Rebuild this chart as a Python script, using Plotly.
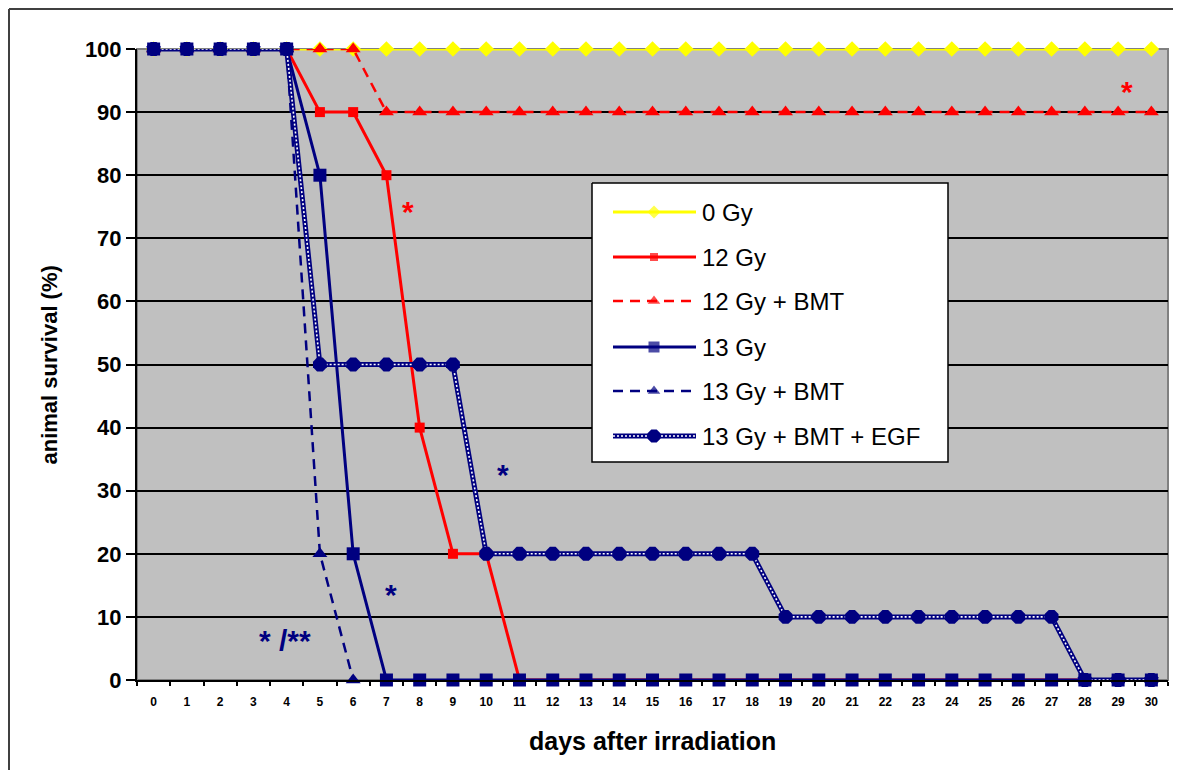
import plotly.graph_objects as go

# ---------------- data ----------------
days = ["0", "1", "2", "3", "4", "5", "6", "7", "8", "9", "10", "11", "12", "13", "14", "15",
        "16", "17", "18", "19", "20", "21", "22", "23", "24", "25", "26", "27", "28", "29", "30"]
gy0 = [100, 100, 100, 100, 100, 100, 100, 100, 100, 100, 100, 100, 100, 100, 100, 100,
       100, 100, 100, 100, 100, 100, 100, 100, 100, 100, 100, 100, 100, 100, 100]
gy12 = [100, 100, 100, 100, 100, 90, 90, 80, 40, 20, 20, 0, 0, 0, 0, 0,
        0, 0, 0, 0, 0, 0, 0, 0, 0, 0, 0, 0, 0, 0, 0]
gy12_bmt = [100, 100, 100, 100, 100, 100, 100, 90, 90, 90, 90, 90, 90, 90, 90, 90,
            90, 90, 90, 90, 90, 90, 90, 90, 90, 90, 90, 90, 90, 90, 90]
gy13 = [100, 100, 100, 100, 100, 80, 20, 0, 0, 0, 0, 0, 0, 0, 0, 0,
        0, 0, 0, 0, 0, 0, 0, 0, 0, 0, 0, 0, 0, 0, 0]
gy13_bmt_days = ["0", "1", "2", "3", "4", "5", "6"]
gy13_bmt = [100, 100, 100, 100, 100, 20, 0]
gy13_bmt_egf = [100, 100, 100, 100, 100, 50, 50, 50, 50, 50, 20, 20, 20, 20, 20, 20,
                20, 20, 20, 10, 10, 10, 10, 10, 10, 10, 10, 10, 0, 0, 0]

series_names = ["0 Gy", "12 Gy", "12 Gy + BMT", "13 Gy", "13 Gy + BMT", "13 Gy + BMT + EGF"]
y_ticks = [0, 10, 20, 30, 40, 50, 60, 70, 80, 90, 100]

# significance marks: (text, day position, survival position, colour)
star_text = ["*", "*", "*", "*", "* /**"]
star_x = [29.28, 7.64, 10.5, 7.13, 3.95]
star_y = [94.0, 75.0, 33.4, 14.3, 7.0]
star_col = ["#FF0000", "#FF0000", "#000080", "#000080", "#000080"]

# ---------------- styles ----------------
FONT = "Liberation Sans, Arial, sans-serif"
YEL = "#FFFF00"
RED = "#FF0000"
NAVY = "#000080"
DASH = "10px,7px"

styles = [
    dict(color=YEL, symbol="diamond", size=12, dash="solid", width=3),
    dict(color=RED, symbol="square", size=10, dash="solid", width=3),
    dict(color=RED, symbol="triangle-up", size=13, dash=DASH, width=2.5),
    dict(color=NAVY, symbol="square", size=13, dash="solid", width=3),
    dict(color=NAVY, symbol="triangle-up", size=13, dash=DASH, width=2.5),
    dict(color=NAVY, symbol="octagon", size=15, dash="solid", width=5),
]

fig = go.Figure()

xs = [days, days, days, days, gy13_bmt_days, days]
ys = [gy0, gy12, gy12_bmt, gy13, gy13_bmt, gy13_bmt_egf]

for i, (x, y, st) in enumerate(zip(xs, ys, styles)):
    if i < 5:
        fig.add_trace(go.Scatter(
            x=x, y=y, mode="lines+markers", name=series_names[i], showlegend=False,
            line=dict(color=st["color"], width=st["width"], dash=st["dash"]),
            marker=dict(symbol=st["symbol"], size=st["size"], color=st["color"]),
            cliponaxis=False))
    else:
        # chain-like line: thick navy line with white dotted core, then markers
        fig.add_trace(go.Scatter(
            x=x, y=y, mode="lines", name=series_names[i], showlegend=False,
            line=dict(color=NAVY, width=5), cliponaxis=False))
        fig.add_trace(go.Scatter(
            x=x, y=y, mode="lines", showlegend=False,
            line=dict(color="white", width=1.6, dash="2px,2px"), cliponaxis=False))
        fig.add_trace(go.Scatter(
            x=x, y=y, mode="markers", showlegend=False,
            marker=dict(symbol=st["symbol"], size=st["size"], color=NAVY),
            cliponaxis=False))

# ---------------- manual legend on a pixel overlay axis ----------------
leg_rows = [212, 257, 301, 347, 391, 436]
lx0, lxm, lx1 = 613, 654, 696
box = dict(x0=592, x1=948, y0=183, y1=462)

fig.add_trace(go.Scatter(
    x=[box["x0"], box["x1"], box["x1"], box["x0"], box["x0"]],
    y=[box["y0"], box["y0"], box["y1"], box["y1"], box["y0"]],
    xaxis="x2", yaxis="y2", mode="lines", fill="toself", fillcolor="white",
    line=dict(color="black", width=1.5), showlegend=False, hoverinfo="skip"))

for i, st in enumerate(styles):
    yy = leg_rows[i]
    if i < 5:
        fig.add_trace(go.Scatter(
            x=[lx0, lxm, lx1], y=[yy, yy, yy], xaxis="x2", yaxis="y2",
            mode="lines+markers", showlegend=False, hoverinfo="skip",
            line=dict(color=st["color"], width=st["width"], dash=st["dash"]),
            marker=dict(symbol=st["symbol"], size=[0, st["size"] - 2, 0], color=st["color"],
                        line=dict(width=0))))
    else:
        fig.add_trace(go.Scatter(
            x=[lx0, lx1], y=[yy, yy], xaxis="x2", yaxis="y2", mode="lines",
            showlegend=False, hoverinfo="skip", line=dict(color=NAVY, width=5)))
        fig.add_trace(go.Scatter(
            x=[lx0, lx1], y=[yy, yy], xaxis="x2", yaxis="y2", mode="lines",
            showlegend=False, hoverinfo="skip",
            line=dict(color="white", width=1.6, dash="2px,2px")))
        fig.add_trace(go.Scatter(
            x=[lxm], y=[yy], xaxis="x2", yaxis="y2", mode="markers",
            showlegend=False, hoverinfo="skip",
            marker=dict(symbol=st["symbol"], size=st["size"] - 1, color=NAVY)))
    fig.add_annotation(x=700, y=yy, xref="x2", yref="y2", text=series_names[i],
                       showarrow=False, xanchor="left", yanchor="middle",
                       font=dict(family=FONT, size=24, color="black"))

# significance asterisks
for t, sx, sy, c in zip(star_text, star_x, star_y, star_col):
    fig.add_annotation(x=sx, y=sy, xref="x", yref="y", text=t, showarrow=False,
                       xanchor="center", yanchor="middle", yshift=-5,
                       font=dict(family=FONT, size=30, color=c, weight="bold"))

# axis titles
fig.add_annotation(x=0.5, y=-0.0967, xref="paper", yref="paper",
                   text="days after irradiation", showarrow=False,
                   xanchor="center", yanchor="middle",
                   font=dict(family=FONT, size=25, color="black", weight="bold"))
fig.add_annotation(x=-0.0844, y=0.5, xref="paper", yref="paper",
                   text="animal survival (%)", showarrow=False, textangle=-90,
                   xanchor="center", yanchor="middle",
                   font=dict(family=FONT, size=22, color="black", weight="bold"))

# plot-area border and the outer chart frame (only its left and top edges are in view)
fig.add_shape(type="rect", xref="paper", yref="paper", x0=0, x1=1, y0=0, y1=1,
              line=dict(color="#808080", width=2), layer="below")
frame_x = (9 - 137) / 1031
frame_y = (680 - 9) / 631
fig.add_shape(type="line", xref="paper", yref="paper",
              x0=frame_x, x1=frame_x, y0=-0.3, y1=frame_y,
              line=dict(color="#404040", width=2), layer="below")
fig.add_shape(type="line", xref="paper", yref="paper",
              x0=frame_x, x1=1.2, y0=frame_y, y1=frame_y,
              line=dict(color="#404040", width=2), layer="below")

# the page body adds an 8 px offset, so the figure is shifted and kept inside the window
fig.update_layout(
    width=1165, height=762,
    margin=dict(l=129, r=5, t=41, b=90),
    paper_bgcolor="white", plot_bgcolor="#C0C0C0",
    showlegend=False,
    xaxis=dict(type="category", categoryorder="array", categoryarray=days,
               range=[-0.5, 30.5], tickson="boundaries", ticks="outside",
               ticklen=4, tickwidth=1.5, tickcolor="black",
               showline=True, linecolor="black", linewidth=2,
               showgrid=False, ticklabelstandoff=10,
               tickfont=dict(family=FONT, size=12, color="black", weight="bold")),
    yaxis=dict(range=[0, 100], tickvals=y_ticks, ticks="outside", ticklen=9,
               tickwidth=1.5, tickcolor="black", showline=True, linecolor="black",
               linewidth=2, showgrid=True, gridcolor="black", gridwidth=1.5,
               zeroline=False, ticklabelstandoff=0,
               tickfont=dict(family=FONT, size=22, color="black", weight="bold")),
    xaxis2=dict(overlaying="x", anchor="y2", range=[137, 1168], visible=False),
    yaxis2=dict(overlaying="y", anchor="x2", range=[680, 49], visible=False),
)

fig.write_html("out.html")
